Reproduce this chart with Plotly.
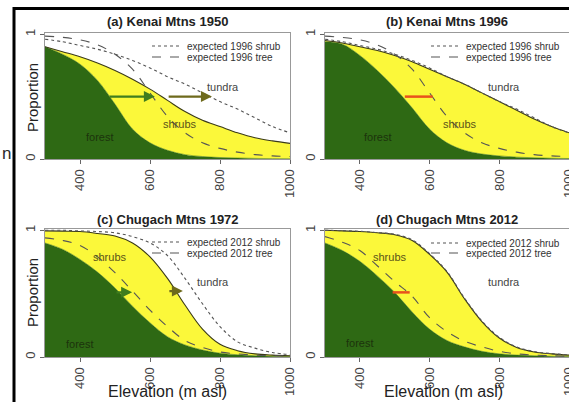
import plotly.graph_objects as go

W, H = 569, 402
FONT = "Liberation Sans, Arial, sans-serif"

# ---------------- data ----------------
elev = [300, 350, 400, 450, 500, 550, 600, 650, 700, 750, 800, 850, 900, 950, 1000]
x_ticks = [400, 600, 800, 1000]
y_ticks = [0, 1]

# (a) Kenai Mtns 1950
a_forest = [0.90, 0.84, 0.76, 0.63, 0.44, 0.24, 0.13, 0.07, 0.035, 0.02, 0.012, 0.008, 0.005, 0.003, 0.002]
a_shrub = [0.90, 0.86, 0.82, 0.77, 0.71, 0.64, 0.56, 0.47, 0.38, 0.31, 0.26, 0.21, 0.17, 0.145, 0.125]
# expected 1996 curves (shown in a and b)
kenai_exp_shrub = [0.96, 0.94, 0.91, 0.88, 0.84, 0.79, 0.73, 0.66, 0.60, 0.53, 0.46, 0.40, 0.33, 0.26, 0.21]
kenai_exp_tree = [0.985, 0.975, 0.955, 0.915, 0.84, 0.72, 0.53, 0.34, 0.21, 0.13, 0.085, 0.055, 0.035, 0.025, 0.02]
# (b) Kenai Mtns 1996
b_forest = [0.94, 0.92, 0.83, 0.71, 0.57, 0.41, 0.24, 0.13, 0.07, 0.04, 0.025, 0.015, 0.01, 0.006, 0.004]
b_shrub = [0.95, 0.93, 0.90, 0.87, 0.83, 0.78, 0.72, 0.66, 0.60, 0.53, 0.46, 0.39, 0.32, 0.26, 0.21]
# (c) Chugach Mtns 1972
c_forest = [0.90, 0.85, 0.77, 0.67, 0.545, 0.40, 0.27, 0.16, 0.095, 0.055, 0.03, 0.018, 0.01, 0.006, 0.004]
c_shrub = [0.995, 0.993, 0.99, 0.975, 0.955, 0.90, 0.79, 0.62, 0.41, 0.22, 0.10, 0.05, 0.025, 0.015, 0.01]
c_exp_shrub = [1.0, 1.0, 0.995, 0.99, 0.98, 0.95, 0.90, 0.80, 0.62, 0.42, 0.24, 0.12, 0.07, 0.035, 0.02]
c_exp_tree = [0.94, 0.92, 0.88, 0.79, 0.665, 0.52, 0.37, 0.24, 0.13, 0.075, 0.04, 0.025, 0.015, 0.01, 0.006]
# (d) Chugach Mtns 2012
d_forest = [0.90, 0.84, 0.755, 0.64, 0.51, 0.355, 0.22, 0.13, 0.08, 0.045, 0.025, 0.015, 0.01, 0.006, 0.004]
d_shrub = [1.0, 0.995, 0.99, 0.98, 0.965, 0.92, 0.81, 0.67, 0.46, 0.28, 0.15, 0.075, 0.04, 0.025, 0.015]
d_exp_shrub = [1.0, 0.997, 0.992, 0.982, 0.968, 0.925, 0.815, 0.675, 0.465, 0.285, 0.155, 0.08, 0.043, 0.027, 0.017]
d_exp_tree = [0.95, 0.905, 0.84, 0.72, 0.595, 0.48, 0.31, 0.20, 0.125, 0.08, 0.045, 0.025, 0.015, 0.01, 0.006]

# shifts: arrows (a, c) and red segments (b, d)
a_arrow_start = [480, 649]
a_arrow_end = [614, 777]
a_arrow_level = [0.50, 0.50]
c_arrow_start = [500, 651]
c_arrow_end = [549, 694]
c_arrow_level = [0.51, 0.52]
b_shift_x = [529, 609]
b_shift_y = [0.50, 0.50]
d_shift_x = [494, 543]
d_shift_y = [0.51, 0.51]

titles = ["(a) Kenai Mtns 1950", "(b) Kenai Mtns 1996",
          "(c) Chugach Mtns 1972", "(d) Chugach Mtns 2012"]
exp_years = ["1996", "1996", "2012", "2012"]
zone_names = ["tundra", "shrubs", "forest"]

# ---------------- styling / layout ----------------
FOREST = "#2e6914"
YELLOW = "#fbf83a"
EDGE = "#3a3a18"
EXPC = "#555555"
ARROW_COLORS = ["#3f7d1e", "#6e6a1c"]
RED = "#e8521c"

x_domains = [[45 / W, 290 / W], [325 / W, 1.0], [45 / W, 290 / W], [325 / W, 1.0]]
y_domains = [[1 - 159 / H, 1 - 33 / H], [1 - 159 / H, 1 - 33 / H],
             [1 - 357 / H, 1 - 229 / H], [1 - 357 / H, 1 - 229 / H]]

panels = [
    dict(forest=a_forest, shrub=a_shrub, es=kenai_exp_shrub, et=kenai_exp_tree),
    dict(forest=b_forest, shrub=b_shrub, es=kenai_exp_shrub, et=kenai_exp_tree),
    dict(forest=c_forest, shrub=c_shrub, es=c_exp_shrub, et=c_exp_tree),
    dict(forest=d_forest, shrub=d_shrub, es=d_exp_shrub, et=d_exp_tree),
]

# label placements (data coords) for tundra / shrubs / forest
label_pos = [
    [(809, 0.58), (686, 0.28), (457, 0.18)],
    [(814, 0.58), (686, 0.28), (451, 0.18)],
    [(780, 0.59), (486, 0.79), (400, 0.10)],
    [(814, 0.59), (486, 0.79), (400, 0.11)],
]
label_colors = ["#444444", "#5a5218", "#1c330c"]

legend_text_x = [189, 468, 189, 468]
legend_rows = [(46, 57), (46, 57), (242, 253), (243, 253)]

fig = go.Figure()
annotations = []
layout_extra = {}

for i, p in enumerate(panels):
    n = i + 1
    xa = "x" if n == 1 else f"x{n}"
    ya = "y" if n == 1 else f"y{n}"
    lg1 = "legend" if 2 * i + 1 == 1 else f"legend{2 * i + 1}"
    lg2 = f"legend{2 * i + 2}"

    fig.add_trace(go.Scatter(x=elev, y=p["forest"], xaxis=xa, yaxis=ya, mode="lines",
                             line=dict(color=FOREST, width=0.5, shape="spline", smoothing=1.0),
                             fill="tozeroy", fillcolor=FOREST, showlegend=False, hoverinfo="skip"))
    fig.add_trace(go.Scatter(x=elev, y=p["shrub"], xaxis=xa, yaxis=ya, mode="lines",
                             line=dict(color=EDGE, width=1.1, shape="spline", smoothing=1.0),
                             fill="tonexty", fillcolor=YELLOW, showlegend=False, hoverinfo="skip"))
    fig.add_trace(go.Scatter(x=elev, y=p["es"], xaxis=xa, yaxis=ya, mode="lines",
                             line=dict(color=EXPC, width=1.1, dash="dot", shape="spline", smoothing=1.0),
                             name=f"expected {exp_years[i]} shrub", legend=lg1, showlegend=True))
    fig.add_trace(go.Scatter(x=elev, y=p["et"], xaxis=xa, yaxis=ya, mode="lines",
                             line=dict(color=EXPC, width=1.1, dash="dash", shape="spline", smoothing=1.0),
                             name=f"expected {exp_years[i]} tree", legend=lg2, showlegend=True))

    # axes
    layout_extra["xaxis" if n == 1 else f"xaxis{n}"] = dict(
        domain=x_domains[i], range=[300, 1000], anchor=ya, tickmode="array",
        tickvals=x_ticks, ticktext=[str(t) for t in x_ticks], tickangle=-90,
        ticks="outside", ticklen=4, tickcolor="#666", showgrid=False, zeroline=False,
        showline=True, mirror=True, linecolor="#999999", linewidth=1,
        tickfont=dict(family=FONT, size=13, color="#444"), ticklabeloverflow="allow")
    layout_extra["yaxis" if n == 1 else f"yaxis{n}"] = dict(
        domain=y_domains[i], range=[0, 1.01], anchor=xa, tickmode="array",
        tickvals=y_ticks, ticktext=[str(t) for t in y_ticks], tickangle=-90,
        ticks="outside", ticklen=4, tickcolor="#666", showgrid=False, zeroline=False,
        showline=True, mirror=True, linecolor="#999999", linewidth=1,
        tickfont=dict(family=FONT, size=13, color="#444"))

    # legends (one per entry, to match tight row spacing)
    for lg, yrow in zip([lg1, lg2], legend_rows[i]):
        layout_extra[lg] = dict(
            x=(legend_text_x[i] - 42) / W, xanchor="left", y=1 - yrow / H, yanchor="middle",
            bgcolor="rgba(0,0,0,0)", borderwidth=0, itemwidth=30,
            font=dict(family=FONT, size=10, color="#333"))

    # title
    annotations.append(dict(text=f"<b>{titles[i]}</b>", xref="paper", yref="paper",
                            x=sum(x_domains[i]) / 2 if n % 2 == 1 else 447 / W,
                            y=1 - (22 if n <= 2 else 220) / H, showarrow=False,
                            font=dict(family=FONT, size=13, color="#222"),
                            xanchor="center", yanchor="middle"))
    # zone labels
    for name, (lx, ly), col in zip(zone_names, label_pos[i], label_colors):
        annotations.append(dict(text=name, x=lx, y=ly, xref=xa, yref=ya, showarrow=False,
                                font=dict(family=FONT, size=11, color=col)))

# arrows in (a) and (c)
for xa, ya, starts, ends, levels in [("x", "y", a_arrow_start, a_arrow_end, a_arrow_level),
                                     ("x3", "y3", c_arrow_start, c_arrow_end, c_arrow_level)]:
    for k in range(len(starts)):
        annotations.append(dict(x=ends[k], y=levels[k], ax=starts[k], ay=levels[k],
                                xref=xa, yref=ya, axref=xa, ayref=ya, text="",
                                showarrow=True, arrowhead=2, arrowsize=1.0, arrowwidth=2.2,
                                arrowcolor=ARROW_COLORS[k]))

# red shift segments in (b) and (d)
fig.add_trace(go.Scatter(x=b_shift_x, y=b_shift_y, xaxis="x2", yaxis="y2", mode="lines",
                         line=dict(color=RED, width=2.5), showlegend=False, hoverinfo="skip"))
fig.add_trace(go.Scatter(x=d_shift_x, y=d_shift_y, xaxis="x4", yaxis="y4", mode="lines",
                         line=dict(color=RED, width=2.5), showlegend=False, hoverinfo="skip"))

# axis titles
for yc in (97, 292):
    annotations.append(dict(text="Proportion", xref="paper", yref="paper", x=32 / W, y=1 - yc / H,
                            textangle=-90, showarrow=False, xanchor="center", yanchor="middle",
                            font=dict(family=FONT, size=15, color="#222")))
for xc in (167.5, 443):
    annotations.append(dict(text="Elevation (m asl)", xref="paper", yref="paper", x=xc / W, y=0,
                            yshift=0, showarrow=False, xanchor="center", yanchor="bottom",
                            font=dict(family=FONT, size=16, color="#222")))

# slide fragment at the far left
annotations.append(dict(text="n", xref="paper", yref="paper", x=0, y=1 - 153 / H,
                        showarrow=False, xanchor="left", yanchor="middle",
                        font=dict(family=FONT, size=17, color="#2a2a2a")))

# slide frame (black border of the embedded figure): left edge and top edge as one path
fx = 14 / W
fy = 1 - 8.5 / H
shapes = [
    dict(type="path", xref="paper", yref="paper",
         path=f"M {fx} 0 L {fx} {fy} L 1 {fy}",
         line=dict(color="black", width=3), layer="above"),
]

fig.update_layout(width=W, height=H, autosize=False,
                  margin=dict(l=0, r=0, t=0, b=0, pad=0, autoexpand=False),
                  paper_bgcolor="white", plot_bgcolor="white",
                  font=dict(family=FONT, color="#333"),
                  annotations=annotations, shapes=shapes, **layout_extra)

fig.write_html("out.html", config={"displayModeBar": False},
               post_script="document.body.style.margin='0px';document.body.style.overflow='hidden';")
